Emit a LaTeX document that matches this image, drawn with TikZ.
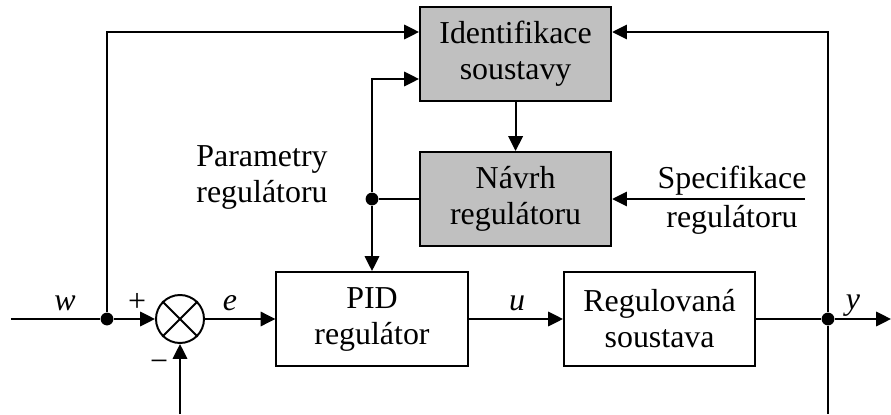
\documentclass[tikz,border=0pt]{standalone}
\usepackage{fontspec}
\setmainfont{Liberation Serif}
\usetikzlibrary{arrows.meta}
\definecolor{boxgray}{RGB}{192,192,192}
\begin{document}
\begin{tikzpicture}[line width=1.4pt, >={Triangle[length=0.37cm,width=0.36cm]}]
	\fontsize{22.7}{25.6}\selectfont

	\tikzstyle{block}=[draw,rectangle,text centered,align=center,minimum width=4.78cm,minimum height=2.35cm]
	\tikzstyle{grayblock}=[block,fill=boxgray]
	\tikzstyle{dot}=[circle,fill,inner sep=0pt,minimum size=0.32cm]
	\tikzstyle{sumnode}=[draw,circle,minimum size=1.2cm,inner sep=0pt]
	\tikzstyle{sig}=[anchor=base,font=\itshape]

	\useasboundingbox (0,0) rectangle (22.275,10.35);

	% bloky
	\node[grayblock] (ident) at (12.89,9.0) {Identifikace\\soustavy};
	\node[grayblock] (navrh) at (12.89,5.375) {Návrh\\regulátoru};
	\node[block] (pid) at (9.3,2.375) {PID\\regulátor};
	\node[block] (soustava) at (16.49,2.375) {Regulovaná\\soustava};

	\node[sumnode] (sum) at (4.5,2.375) {};
	\draw (sum.north west) -- (sum.south east);
	\draw (sum.north east) -- (sum.south west);

	% uzly
	\node[dot] (dw) at (2.675,2.375) {};
	\node[dot] (dp) at (9.3,5.375) {};
	\node[dot] (dy) at (20.7,2.375) {};

	\coordinate (in) at (0.275,2.375);
	\coordinate (out) at (22.275,2.375);
	\coordinate (fbsum) at (4.5,0);
	\coordinate (fby) at (20.7,0);
	\coordinate (spec) at (20.125,5.375);

	% hlavni smycka
	\draw (in) -- (dw);
	\draw[->] (dw) -- (sum);
	\draw[->] (sum) -- (pid);
	\draw[->] (pid) -- (soustava);
	\draw (soustava) -- (dy);
	\draw[->] (dy) -- (out);
	\draw (dy) -- (fby);
	\draw[->] (fbsum) -- (sum);

	% adaptace
	\draw[->] (dw) |- ([yshift=0.55cm]ident.west);
	\draw[->] (dy) |- ([yshift=0.55cm]ident.east);
	\draw[->] (ident) -- (navrh);
	\draw (navrh) -- (dp);
	\draw[->] (dp) -- (pid);
	\draw[->] (dp) |- ([yshift=-0.625cm]ident.west);
	\draw[->] (spec) -- (navrh);

	% popisky
	\node[align=center] (param) at (6.55,5.925) {Parametry\\regulátoru};
	\node[anchor=base] (spec1) at (18.3,5.65) {Specifikace};
	\node[anchor=base] (spec2) at (18.3,4.675) {regulátoru};
	\node[sig] (lw) at (1.625,2.6) {w};
	\node (lplus) at (3.425,2.8) {+};
	\node (lminus) at (3.975,1.2) {−};
	\node[sig] (le) at (5.75,2.6) {e};
	\node[sig] (lu) at (12.925,2.6) {u};
	\node[sig] (ly) at (21.325,2.625) {y};

%	\draw (fbsum) -- (fby);
\end{tikzpicture}
\end{document}
